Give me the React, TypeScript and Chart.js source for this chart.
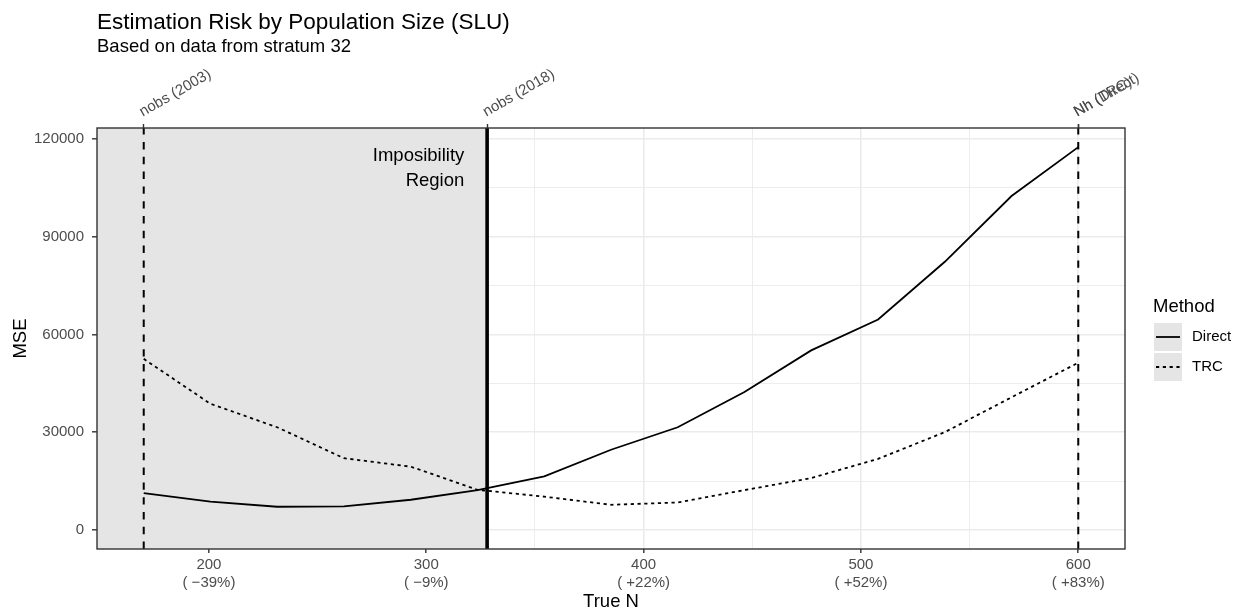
import React, { useEffect, useRef } from "react";
import { Chart, registerables } from "chart.js";

Chart.register(...registerables);

const FONT = "'Liberation Sans', Arial, Helvetica, sans-serif";

// ---- data ----
const trueN = [170, 200.7, 231.4, 262.1, 292.9, 323.6, 354.3, 385, 415.7, 446.4, 477.1, 507.9, 538.6, 569.3, 600];
const directMSE = [11300, 8700, 7100, 7200, 9250, 12200, 16400, 24600, 31500, 42300, 55100, 64600, 82300, 102500, 117500];
const trcMSE = [52500, 38700, 31500, 22000, 19400, 12300, 10200, 7700, 8400, 12200, 15900, 21800, 30000, 40700, 51300];
const methods = ["Direct", "TRC"];

const nobs2003 = 170;
const nobs2018 = 328;
const nhValue = 600;
const refLineValues = [170, 328, 600, 600];
const refLineLabels = ["nobs (2003)", "nobs (2018)", "Nh (Direct)", "Nh (TRC)"];

const xMajor = [200, 300, 400, 500, 600];
const xPct = ["( \u221239%)", "( \u22129%)", "( +22%)", "( +52%)", "( +83%)"];
const xMinor = [150, 250, 350, 450, 550];
const yMajor = [0, 30000, 60000, 90000, 120000];
const yMinor = [15000, 45000, 75000, 105000];
const xRange = [148.5, 621.5];
const yRange = [-5875, 123375];

const titleText = "Estimation Risk by Population Size (SLU)";
const subtitleText = "Based on data from stratum 32";
const regionLabel = ["Imposibility", "Region"];
const regionLabelX = 317.5;
const regionLabelY = 111000;

const GRID = "#EBEBEB";
const TICK = "#333333";
const LABEL = "#4D4D4D";

const decorPlugin = {
  id: "decor",
  beforeDatasetsDraw(chart: any) {
    const { ctx, chartArea: a, scales } = chart;
    const x = scales.x;
    const xr = x.getPixelForValue(nobs2018);
    ctx.save();
    ctx.fillStyle = "#E5E5E5";
    ctx.fillRect(a.left, a.top, xr - a.left, a.bottom - a.top);
    ctx.restore();
  },
  afterDatasetsDraw(chart: any) {
    const { ctx, chartArea: a, scales } = chart;
    const x = scales.x;
    const y = scales.y;
    ctx.save();
    ctx.beginPath();
    ctx.rect(a.left, a.top, a.right - a.left, a.bottom - a.top);
    ctx.clip();
    ctx.strokeStyle = "#000";
    ctx.lineCap = "butt";
    [nobs2003, nhValue].forEach((v) => {
      const px = x.getPixelForValue(v);
      ctx.lineWidth = 2;
      ctx.setLineDash([7.4, 7.4]);
      ctx.beginPath();
      ctx.moveTo(px, a.bottom);
      ctx.lineTo(px, a.top);
      ctx.stroke();
    });
    ctx.setLineDash([]);
    ctx.lineWidth = 3.6;
    const p = x.getPixelForValue(nobs2018);
    ctx.beginPath();
    ctx.moveTo(p, a.bottom);
    ctx.lineTo(p, a.top);
    ctx.stroke();
    ctx.restore();

    // annotation
    ctx.save();
    ctx.fillStyle = "#000";
    ctx.font = `18.5px ${FONT}`;
    ctx.textAlign = "right";
    ctx.textBaseline = "middle";
    const tx = x.getPixelForValue(regionLabelX);
    const ty = y.getPixelForValue(regionLabelY);
    ctx.fillText(regionLabel[0], tx, ty - 12.8);
    ctx.fillText(regionLabel[1], tx, ty + 12.8);
    ctx.restore();

    // panel border
    ctx.save();
    ctx.strokeStyle = TICK;
    ctx.lineWidth = 1.4;
    ctx.strokeRect(a.left, a.top, a.right - a.left, a.bottom - a.top);
    ctx.restore();
  },
  afterDraw(chart: any) {
    const { ctx, chartArea: a } = chart;
    ctx.save();
    ctx.fillStyle = "#000";
    ctx.textAlign = "left";
    ctx.textBaseline = "alphabetic";
    ctx.font = `22.5px ${FONT}`;
    ctx.fillText(titleText, a.left, 29);
    ctx.font = `18.5px ${FONT}`;
    ctx.fillText(subtitleText, a.left, 52);

    // legend
    const lx = 1153;
    ctx.font = `18.5px ${FONT}`;
    ctx.fillText("Method", lx, 312);
    const keyTops = [323, 353];
    methods.forEach((m, i) => {
      const top = keyTops[i];
      ctx.fillStyle = "#E5E5E5";
      ctx.fillRect(1154, top, 28, 28);
      ctx.strokeStyle = "#000";
      ctx.lineWidth = 1.8;
      ctx.setLineDash(i === 0 ? [] : [3.2, 3.6]);
      ctx.beginPath();
      ctx.moveTo(1156, top + 14);
      ctx.lineTo(1180, top + 14);
      ctx.stroke();
      ctx.setLineDash([]);
      ctx.fillStyle = "#000";
      ctx.font = `15px ${FONT}`;
      ctx.textBaseline = "middle";
      ctx.fillText(m, 1192, top + 14);
      ctx.textBaseline = "alphabetic";
    });
    ctx.restore();
  },
};

export default function App() {
  const ref = useRef<HTMLCanvasElement>(null);
  useEffect(() => {
    const canvas = ref.current;
    if (!canvas) return;
    const isXMajor = (v: number) => xMajor.includes(v);
    const isYMajor = (v: number) => yMajor.includes(v);
    const chart = new Chart(canvas, {
      type: "line",
      data: {
        datasets: [
          {
            label: methods[0],
            data: trueN.map((n, i) => ({ x: n, y: directMSE[i] })),
            borderColor: "#000",
            borderWidth: 1.8,
            pointRadius: 0,
            fill: false,
            tension: 0,
          },
          {
            label: methods[1],
            data: trueN.map((n, i) => ({ x: n, y: trcMSE[i] })),
            borderColor: "#000",
            borderWidth: 1.8,
            borderDash: [3.2, 3.6],
            pointRadius: 0,
            fill: false,
            tension: 0,
          },
        ],
      },
      options: {
        responsive: false,
        animation: false,
        events: [],
        layout: { padding: { left: 0, top: 0, right: 119, bottom: 0 } },
        plugins: {
          legend: { display: false },
          tooltip: { enabled: false },
          title: { display: false },
        },
        scales: {
          x: {
            type: "linear",
            position: "bottom",
            min: xRange[0],
            max: xRange[1],
            afterBuildTicks: (s: any) => {
              s.ticks = [...xMinor, ...xMajor].sort((p, q) => p - q).map((v) => ({ value: v }));
            },
            afterFit: (s: any) => {
              s.height = 66;
            },
            border: { display: false },
            grid: {
              color: GRID,
              lineWidth: (c: any) => (c.tick && isXMajor(c.tick.value) ? 1.6 : 0.9),
              tickColor: (c: any) => (c.tick && isXMajor(c.tick.value) ? TICK : "rgba(0,0,0,0)"),
              tickLength: 4,
              tickWidth: 1.4,
            },
            ticks: {
              autoSkip: false,
              maxRotation: 0,
              minRotation: 0,
              padding: 2,
              color: LABEL,
              font: { family: FONT, size: 15, lineHeight: 1.25 },
              callback: (v: any) => {
                const i = xMajor.indexOf(Number(v));
                return i >= 0 ? [String(v), xPct[i]] : "";
              },
            },
            title: {
              display: true,
              text: "True N",
              color: "#000",
              font: { family: FONT, size: 18.5, lineHeight: 1.2 },
              padding: { top: 0, bottom: 2 },
            },
          },
          xTop: {
            type: "linear",
            position: "top",
            min: xRange[0],
            max: xRange[1],
            afterBuildTicks: (s: any) => {
              s.ticks = refLineValues.map((v) => ({ value: v }));
            },
            afterFit: (s: any) => {
              s.height = 128;
            },
            border: { display: false },
            grid: {
              drawOnChartArea: false,
              drawTicks: true,
              tickLength: 4,
              tickColor: TICK,
              tickWidth: 1.4,
            },
            ticks: {
              autoSkip: false,
              minRotation: 30,
              maxRotation: 30,
              padding: 3,
              labelOffset: 6,
              color: LABEL,
              font: { family: FONT, size: 15 },
              callback: (_v: any, i: number) => refLineLabels[i],
            },
          },
          y: {
            type: "linear",
            position: "left",
            min: yRange[0],
            max: yRange[1],
            afterBuildTicks: (s: any) => {
              s.ticks = [...yMajor, ...yMinor].sort((p, q) => p - q).map((v) => ({ value: v }));
            },
            afterFit: (s: any) => {
              s.width = 97;
            },
            border: { display: false },
            grid: {
              color: GRID,
              lineWidth: (c: any) => (c.tick && isYMajor(c.tick.value) ? 1.6 : 0.9),
              tickColor: (c: any) => (c.tick && isYMajor(c.tick.value) ? TICK : "rgba(0,0,0,0)"),
              tickLength: 5,
              tickWidth: 1.4,
            },
            ticks: {
              autoSkip: false,
              padding: 8,
              color: LABEL,
              font: { family: FONT, size: 15 },
              callback: (v: any) => (isYMajor(Number(v)) ? String(v) : ""),
            },
            title: {
              display: true,
              text: "MSE",
              color: "#000",
              font: { family: FONT, size: 18.5, lineHeight: 1.2 },
              padding: { top: 10, bottom: 0 },
            },
          },
        },
      },
      plugins: [decorPlugin],
    } as any);
    return () => chart.destroy();
  }, []);
  return (
    <div style={{ position: "absolute", left: 0, top: 0, width: 1244, height: 615, background: "#fff" }}>
      <canvas ref={ref} width={1244} height={615} style={{ display: "block" }} />
    </div>
  );
}
